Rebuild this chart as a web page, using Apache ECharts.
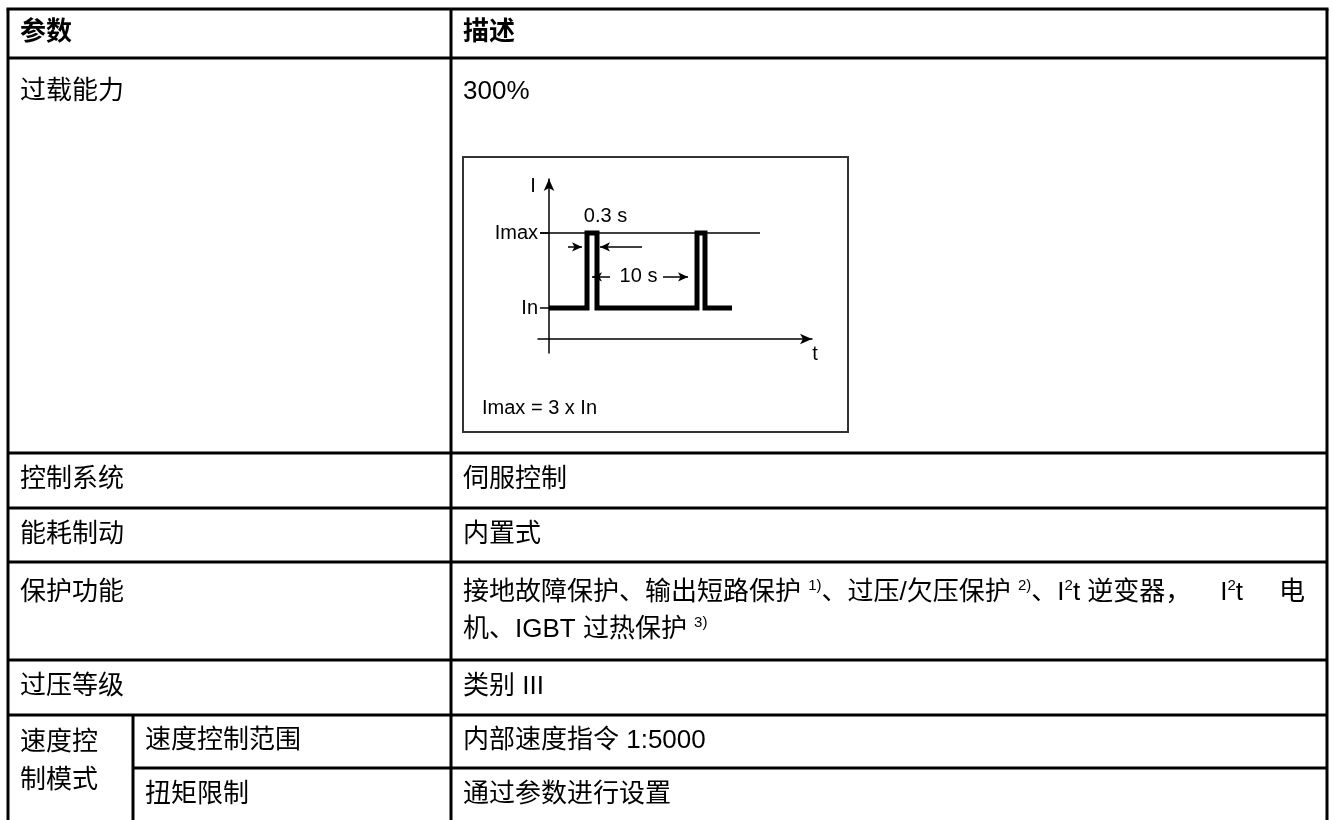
<!DOCTYPE html>
<html><head><meta charset="utf-8">
<script src="https://cdn.jsdelivr.net/npm/echarts@6/dist/echarts.min.js"></script>
<style>html,body{margin:0;padding:0;background:#fff}#c{width:1333px;height:820px}</style>
</head><body><div id="c"></div>
<script>
// ---- data ----
const headers = ['参数', '描述'];
const paramNames = ['过载能力', '控制系统', '能耗制动', '保护功能', '过压等级'];
const groupName = ['速度控', '制模式'];
const subParams = ['速度控制范围', '扭矩限制'];
const descriptions = ['300%', '伺服控制', '内置式', '', '类别 III'];
// protection text: '^' marks a superscript run up to the next '|'
const protectionLine1 = '接地故障保护、输出短路保护 ^1)|、过压/欠压保护 ^2)|、I^2|t 逆变器，I^2|t 电';
const protectionLine2 = '机、IGBT 过热保护 ^3)|';
const subDescriptions = ['内部速度指令 1:5000', '通过参数进行设置'];
const pulseTime = [0, 3.8, 3.8, 4.8, 4.8, 14.8, 14.8, 15.6, 15.6, 18.3];
const pulseCurrent = [1, 1, 3, 3, 1, 1, 3, 3, 1, 1];
const levelValues = [1, 3];
const levelLabels = ['In', 'Imax'];
const diagramTexts = ['I', 't', '0.3 s', '10 s'];
const formulaText = 'Imax = 3 x In';

// ---- layout ----
const FONT = '"Liberation Sans", Arial, "Noto Sans CJK SC", sans-serif';
const FS = 26, SUPFS = 15;
const L = 8, R = 1327, T = 9, B = 823, C1 = 451, CS = 133;
const rowLines = [58, 453, 508, 562, 660, 715];
const LW = 3;
const g = [];
function line(x1, y1, x2, y2) {
  g.push({type: 'line', shape: {x1, y1, x2, y2}, style: {stroke: '#000', lineWidth: LW}, z: 10});
}
function text(x, y, t, opts) {
  g.push({type: 'text', x, y, z: 11, style: Object.assign({
    text: t, fontSize: FS, fontFamily: FONT, fill: '#000', verticalAlign: 'middle', align: 'left'
  }, opts || {})});
}
const ctx = document.createElement('canvas').getContext('2d');
function measure(t, size) { ctx.font = size + 'px ' + FONT; return ctx.measureText(t).width; }

// split a string into segments at spaces / after the full-width comma
function parseSegments(s) {
  const segs = [];
  let cur = [];
  let i = 0;
  const flush = () => { if (cur.length) segs.push(cur); cur = []; };
  while (i < s.length) {
    if (s[i] === '^') { const j = s.indexOf('|', i); cur.push({t: s.slice(i + 1, j), sup: true}); i = j + 1; continue; }
    cur.push({t: s[i], sup: false});
    if (s[i] === ' ' || s[i] === '，') flush();
    i++;
  }
  flush();
  segs.forEach(sg => {
    sg.w = sg.reduce((a, p) => a + measure(p.t, p.sup ? SUPFS : FS), 0);
    sg.txt = sg.map(p => p.t).join('');
  });
  return segs;
}
function drawSegments(segs, x0, y, extra) {
  let x = x0;
  segs.forEach((sg, k) => {
    let px = x, buf = '', bufX = x;
    const flushBuf = () => { if (buf.trim()) text(bufX, y, buf.replace(/\s+$/, '')); buf = ''; };
    sg.forEach(p => {
      const w = measure(p.t, p.sup ? SUPFS : FS);
      if (p.sup) { flushBuf(); text(px, y - 7, p.t, {fontSize: SUPFS}); bufX = px + w; }
      else { if (!buf) bufX = px; buf += p.t; }
      px += w;
    });
    flushBuf();
    x += sg.w + (extra ? extra[k] || 0 : 0);
  });
}

line(L - 1.5, T, R + 1.5, T);
line(L, T, L, B);
line(R, T, R, B);
line(C1, T, C1, B);
rowLines.forEach(y => line(L, y, R, y));
line(CS, 768, R, 768);
line(CS, 715, CS, B);

text(20, 33, headers[0], {fontWeight: 'bold'});
text(463, 33, headers[1], {fontWeight: 'bold'});
const rowY = [92, 480, 535, 593, 687];
paramNames.forEach((p, i) => text(20, rowY[i], p));
descriptions.forEach((d, i) => { if (d) text(463, rowY[i], d); });

// first line of the protection cell: stretched after the comma and before the last word
const segs1 = parseSegments(protectionLine1);
const total1 = segs1.reduce((a, s) => a + s.w, 0);
const extraW = (1305 - 463) - total1;
const extra1 = segs1.map(() => 0);
const commaIdx = segs1.findIndex(s => s.txt.endsWith('，'));
extra1[commaIdx] = extraW * 0.5;
extra1[segs1.length - 2] = extraW * 0.5;
drawSegments(segs1, 463, 593, extra1);
drawSegments(parseSegments(protectionLine2), 463, 630, null);

text(20, 743, groupName[0]);
text(20, 781, groupName[1]);
text(145, 741, subParams[0]);
text(145, 795, subParams[1]);
text(463, 741, subDescriptions[0]);
text(463, 795, subDescriptions[1]);

// diagram frame + formula
g.push({type: 'rect', shape: {x: 463, y: 157, width: 385, height: 275}, style: {fill: 'none', stroke: '#333', lineWidth: 2}, z: 1});
text(482, 408, formulaText, {fontSize: 20});

const chart = echarts.init(document.getElementById('c'), null, {renderer: 'canvas'});
const axisColor = '#000';
chart.setOption({
  animation: false,
  backgroundColor: '#fff',
  graphic: {elements: g},
  grid: {left: 538, top: 179, width: 274, height: 174},
  xAxis: {
    type: 'value', min: -1.1, max: 26.3, position: 'bottom', offset: -14,
    axisLine: {onZero: false, symbol: ['none', 'arrow'], symbolSize: [8, 12], lineStyle: {color: axisColor, width: 1.5}},
    axisTick: {show: false}, axisLabel: {show: false}, splitLine: {show: false}
  },
  yAxis: {
    type: 'value', min: -0.2, max: 4.44,
    axisLine: {show: true, onZero: true, symbol: ['none', 'arrow'], symbolSize: [8, 12], lineStyle: {color: axisColor, width: 1.5}},
    axisTick: {show: true, customValues: levelValues, length: 9, lineStyle: {color: axisColor, width: 1.5}},
    axisLabel: {show: true, customValues: levelValues, margin: 0, fontSize: 20, fontFamily: FONT, color: '#000',
      formatter: v => levelLabels[levelValues.indexOf(v)]},
    splitLine: {show: false}
  },
  series: [
    {
      type: 'line', name: 'Imax ref', symbol: 'none', silent: true,
      data: [[-0.9, levelValues[1]], [21.1, levelValues[1]]],
      lineStyle: {color: '#000', width: 1.5},
      markLine: {
        silent: true, symbol: ['none', 'arrow'], symbolSize: [7, 10], animation: false,
        lineStyle: {color: '#000', width: 1.5, type: 'solid'}, label: {show: false},
        data: [
          [{coord: [1.9, 2.63]}, {coord: [3.3, 2.63]}],
          [{coord: [9.3, 2.63]}, {coord: [5.1, 2.63]}],
          [{coord: [6.1, 1.83]}, {coord: [4.3, 1.83]}],
          [{coord: [11.4, 1.83]}, {coord: [13.9, 1.83]}]
        ]
      }
    },
    {
      type: 'line', name: 'current', symbol: 'none', silent: true,
      data: pulseTime.map((t, i) => [t, pulseCurrent[i]]),
      lineStyle: {color: '#000', width: 5, join: 'miter'}
    },
    {
      type: 'scatter', symbolSize: 0, clip: false, silent: true, itemStyle: {color: '#000', opacity: 1},
      label: {show: true, position: 'inside', color: '#000', fontSize: 20, fontFamily: FONT,
        textBorderWidth: 0, textBorderColor: 'transparent', opacity: 1,
        formatter: p => diagramTexts[p.dataIndex]},
      data: [[-1.6, 4.23], [26.6, -0.25], [5.65, 3.43], [8.95, 1.83]]
    }
  ]
});
</script></body></html>
